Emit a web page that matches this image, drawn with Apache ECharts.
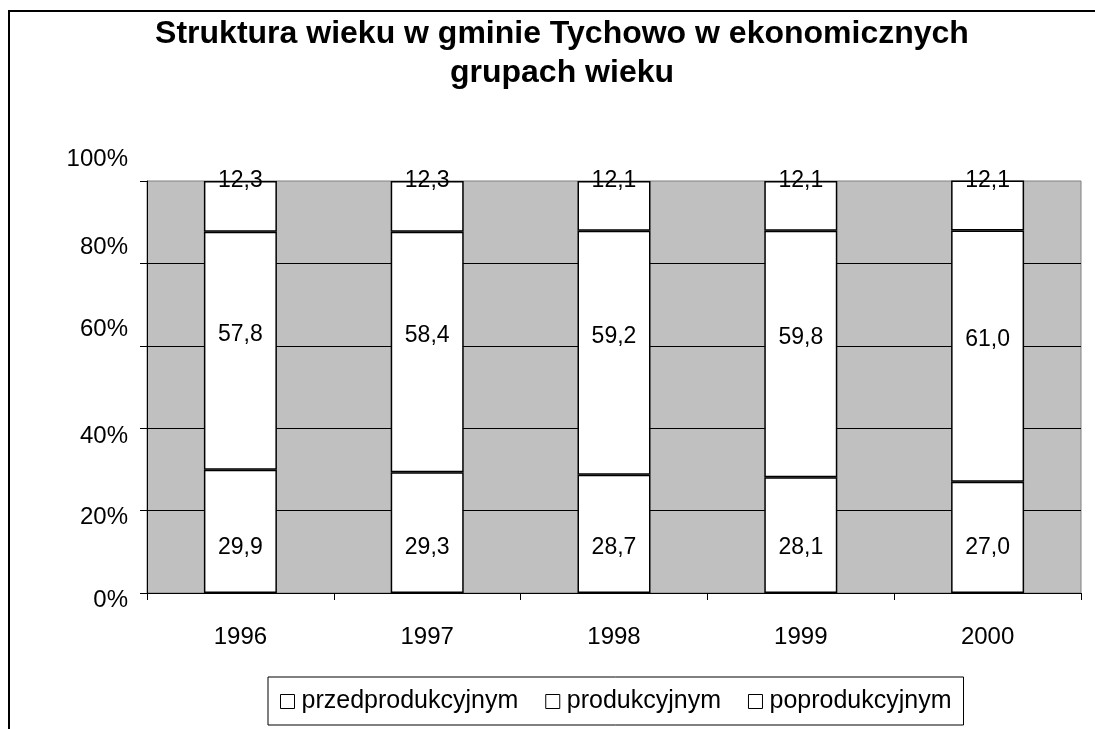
<!DOCTYPE html>
<html>
<head>
<meta charset="utf-8">
<script src="https://cdn.jsdelivr.net/npm/echarts@6/dist/echarts.min.js"></script>
<style>
  html, body { margin: 0; padding: 0; background: #fff; }
  #chart { width: 1095px; height: 729px; }
</style>
</head>
<body>
<div id="chart"></div>
<script>
var years = ["1996", "1997", "1998", "1999", "2000"];
var przed = [29.9, 29.3, 28.7, 28.1, 27.0];
var prod = [57.8, 58.4, 59.2, 59.8, 61.0];
var popr = [12.3, 12.3, 12.1, 12.1, 12.1];
var seriesNames = ["przedprodukcyjnym", "produkcyjnym", "poprodukcyjnym"];

var font = "'Liberation Sans', Arial, sans-serif";
var chart = echarts.init(document.getElementById("chart"));

function fmt(p) {
  return p.value.toFixed(1).replace(".", ",");
}

// excel-like label shifts of the y axis (px, negative = up)
var yShift = { 0: 7, 20: 7, 40: 8, 60: -16, 80: -16, 100: -22 };
var yRich = {};
Object.keys(yShift).forEach(function (k) {
  var d = yShift[k];
  yRich["v" + k] = {
    fontFamily: font,
    fontSize: 24,
    color: "#000",
    padding: d < 0 ? [0, 0, -2 * d, 0] : [2 * d, 0, 0, 0]
  };
});

function barSeries(name, data, label) {
  return {
    name: name,
    type: "bar",
    stack: "all",
    barWidth: 73,
    data: data,
    itemStyle: { color: "#fff", borderColor: "#000", borderWidth: 1.5 },
    label: Object.assign(
      { show: true, formatter: fmt, color: "#000", fontSize: 23, fontFamily: font,
        align: "center", verticalAlign: "middle" },
      label
    )
  };
}

chart.setOption({
  animation: false,
  title: {
    text: "Struktura wieku w gminie Tychowo w ekonomicznych\ngrupach wieku",
    left: 557,
    textAlign: "center",
    top: 10,
    textStyle: { fontFamily: font, fontSize: 32, fontWeight: "bold", color: "#000", lineHeight: 39 }
  },
  graphic: [{
    type: "rect",
    shape: { x: 9, y: 11, width: 1100, height: 800 },
    style: { fill: null, stroke: "#000", lineWidth: 2 },
    silent: true
  }],
  legend: {
    bottom: 4,
    left: 268,
    data: seriesNames,
    icon: "rect",
    itemWidth: 14,
    itemHeight: 14,
    itemGap: 27,
    borderColor: "#000",
    borderWidth: 1,
    padding: [12, 12, 11, 12],
    textStyle: { fontFamily: font, fontSize: 25, color: "#000", padding: [4, 0, 0, 2] },
    itemStyle: { color: "#fff", borderColor: "#000", borderWidth: 1 }
  },
  grid: {
    left: 147,
    right: 14,
    top: 181,
    bottom: 136,
    show: true,
    backgroundColor: "#C0C0C0",
    borderColor: "#808080",
    borderWidth: 1
  },
  xAxis: {
    type: "category",
    data: years,
    axisLine: { lineStyle: { color: "#000", width: 1 } },
    axisTick: { show: true, length: 7, lineStyle: { color: "#000" } },
    axisLabel: { fontFamily: font, fontSize: 24, color: "#000", margin: 32 }
  },
  yAxis: {
    type: "value",
    min: 0,
    max: 100,
    interval: 20,
    axisLine: { show: true, lineStyle: { color: "#000", width: 1 } },
    axisTick: { show: true, length: 7, lineStyle: { color: "#000" } },
    splitLine: { showMaxLine: false, lineStyle: { color: "#000", width: 1 } },
    axisLabel: {
      formatter: function (v) { return "{v" + v + "|" + v + "%}"; },
      rich: yRich,
      margin: 19
    }
  },
  series: [
    barSeries(seriesNames[0], przed, { position: ["50%", "100%"], offset: [0, -45] }),
    barSeries(seriesNames[1], prod, { position: "inside", offset: [0, -16] }),
    barSeries(seriesNames[2], popr, { position: ["50%", 0] })
  ]
});
</script>
</body>
</html>
